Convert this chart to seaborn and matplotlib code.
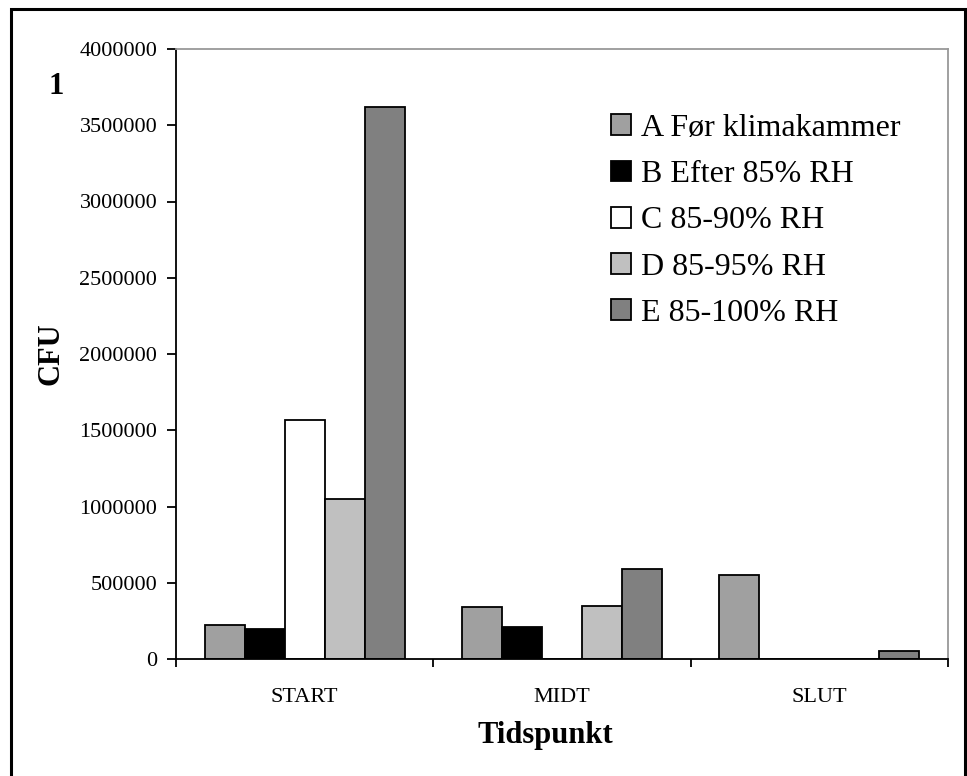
import matplotlib
matplotlib.use("Agg")
import matplotlib.pyplot as plt
import matplotlib.patches as mpatches
from matplotlib.ticker import FixedLocator, FuncFormatter
import seaborn as sns
import pandas as pd

# Colony counts (CFU) per sampling time and climate-chamber series
tidspunkter = ["START", "MIDT", "SLUT"]
serier = ["A Før klimakammer", "B Efter 85% RH", "C 85-90% RH",
          "D 85-95% RH", "E 85-100% RH"]
serie_a = [220000, 340000, 550000]
serie_b = [200000, 210000, 0]
serie_c = [1570000, 0, 0]
serie_d = [1050000, 350000, 0]
serie_e = [3620000, 590000, 50000]
farver = ["#a0a0a0", "#000000", "#ffffff", "#c0c0c0", "#808080"]
y_ticks = [0, 500000, 1000000, 1500000, 2000000, 2500000, 3000000,
           3500000, 4000000]

rows = []
for serie, values in zip(serier, [serie_a, serie_b, serie_c, serie_d, serie_e]):
    for t, v in zip(tidspunkter, values):
        rows.append({"Tidspunkt": t, "CFU": v, "Serie": serie})
df = pd.DataFrame(rows)

sns.set_theme(style="white")
plt.rcParams["font.family"] = ["Liberation Serif", "DejaVu Serif"]
plt.rcParams["text.color"] = "black"
plt.rcParams["xtick.color"] = "black"
plt.rcParams["ytick.color"] = "black"
plt.rcParams["axes.labelcolor"] = "black"

W, H = 967, 776
fig = plt.figure(figsize=(W / 100, H / 100), dpi=100)
ax = fig.add_axes([176 / W, 1 - 659 / H, (948 - 176) / W, (659 - 49) / H])

sns.barplot(data=df, x="Tidspunkt", y="CFU", hue="Serie", order=tidspunkter,
            hue_order=serier, palette=farver, width=0.776, saturation=1,
            edgecolor="black", linewidth=1.3, errorbar=None, ax=ax)

ax.set_xlim(-0.5, 2.5)
ax.set_ylim(0, 4000000)
ax.yaxis.set_major_locator(FixedLocator(y_ticks))
ax.yaxis.set_major_formatter(FuncFormatter(lambda v, p: f"{int(v)}"))
ax.tick_params(axis="y", which="major", direction="out", length=6.5,
               width=1.3, color="black", pad=7, labelsize=16, left=True)
ax.xaxis.set_minor_locator(FixedLocator([-0.5, 0.5, 1.5, 2.5]))
ax.tick_params(axis="x", which="major", length=0, pad=21, labelsize=16)
ax.tick_params(axis="x", which="minor", direction="out", length=5.5,
               width=1.3, color="black", bottom=True)

for side in ["left", "bottom"]:
    ax.spines[side].set_color("black")
    ax.spines[side].set_linewidth(1.3)
for side in ["top", "right"]:
    ax.spines[side].set_color("#999999")
    ax.spines[side].set_linewidth(1.3)

ax.set_xlabel("")
ax.set_ylabel("")
fig.text(51 / W, 1 - 354 / H, "CFU", rotation=90, ha="center", va="center",
         fontsize=22, fontweight="bold")
fig.text(545 / W, 1 - 735 / H, "Tidspunkt", ha="center", va="center",
         fontsize=22, fontweight="bold")
fig.text(56 / W, 1 - 87 / H, "1", ha="center", va="center",
         fontsize=22, fontweight="bold")

handles, labels = ax.get_legend_handles_labels()
ax.get_legend().remove()
leg = fig.legend(handles, labels, loc="upper left",
                 bbox_to_anchor=(611 / W, 1 - 114 / H), frameon=False,
                 fontsize=23, handlelength=0.62, handleheight=0.62,
                 handletextpad=0.33, labelspacing=0.54, borderpad=0,
                 borderaxespad=0)

# outer chart frame
frame = mpatches.Rectangle((10.5 / W, -0.02), (965 - 10.5) / W, 1.02 - 9.5 / H,
                           transform=fig.transFigure, fill=False,
                           edgecolor="black", linewidth=2.2, clip_on=False)
fig.patches.append(frame)

fig.savefig("out.png", dpi=100)
